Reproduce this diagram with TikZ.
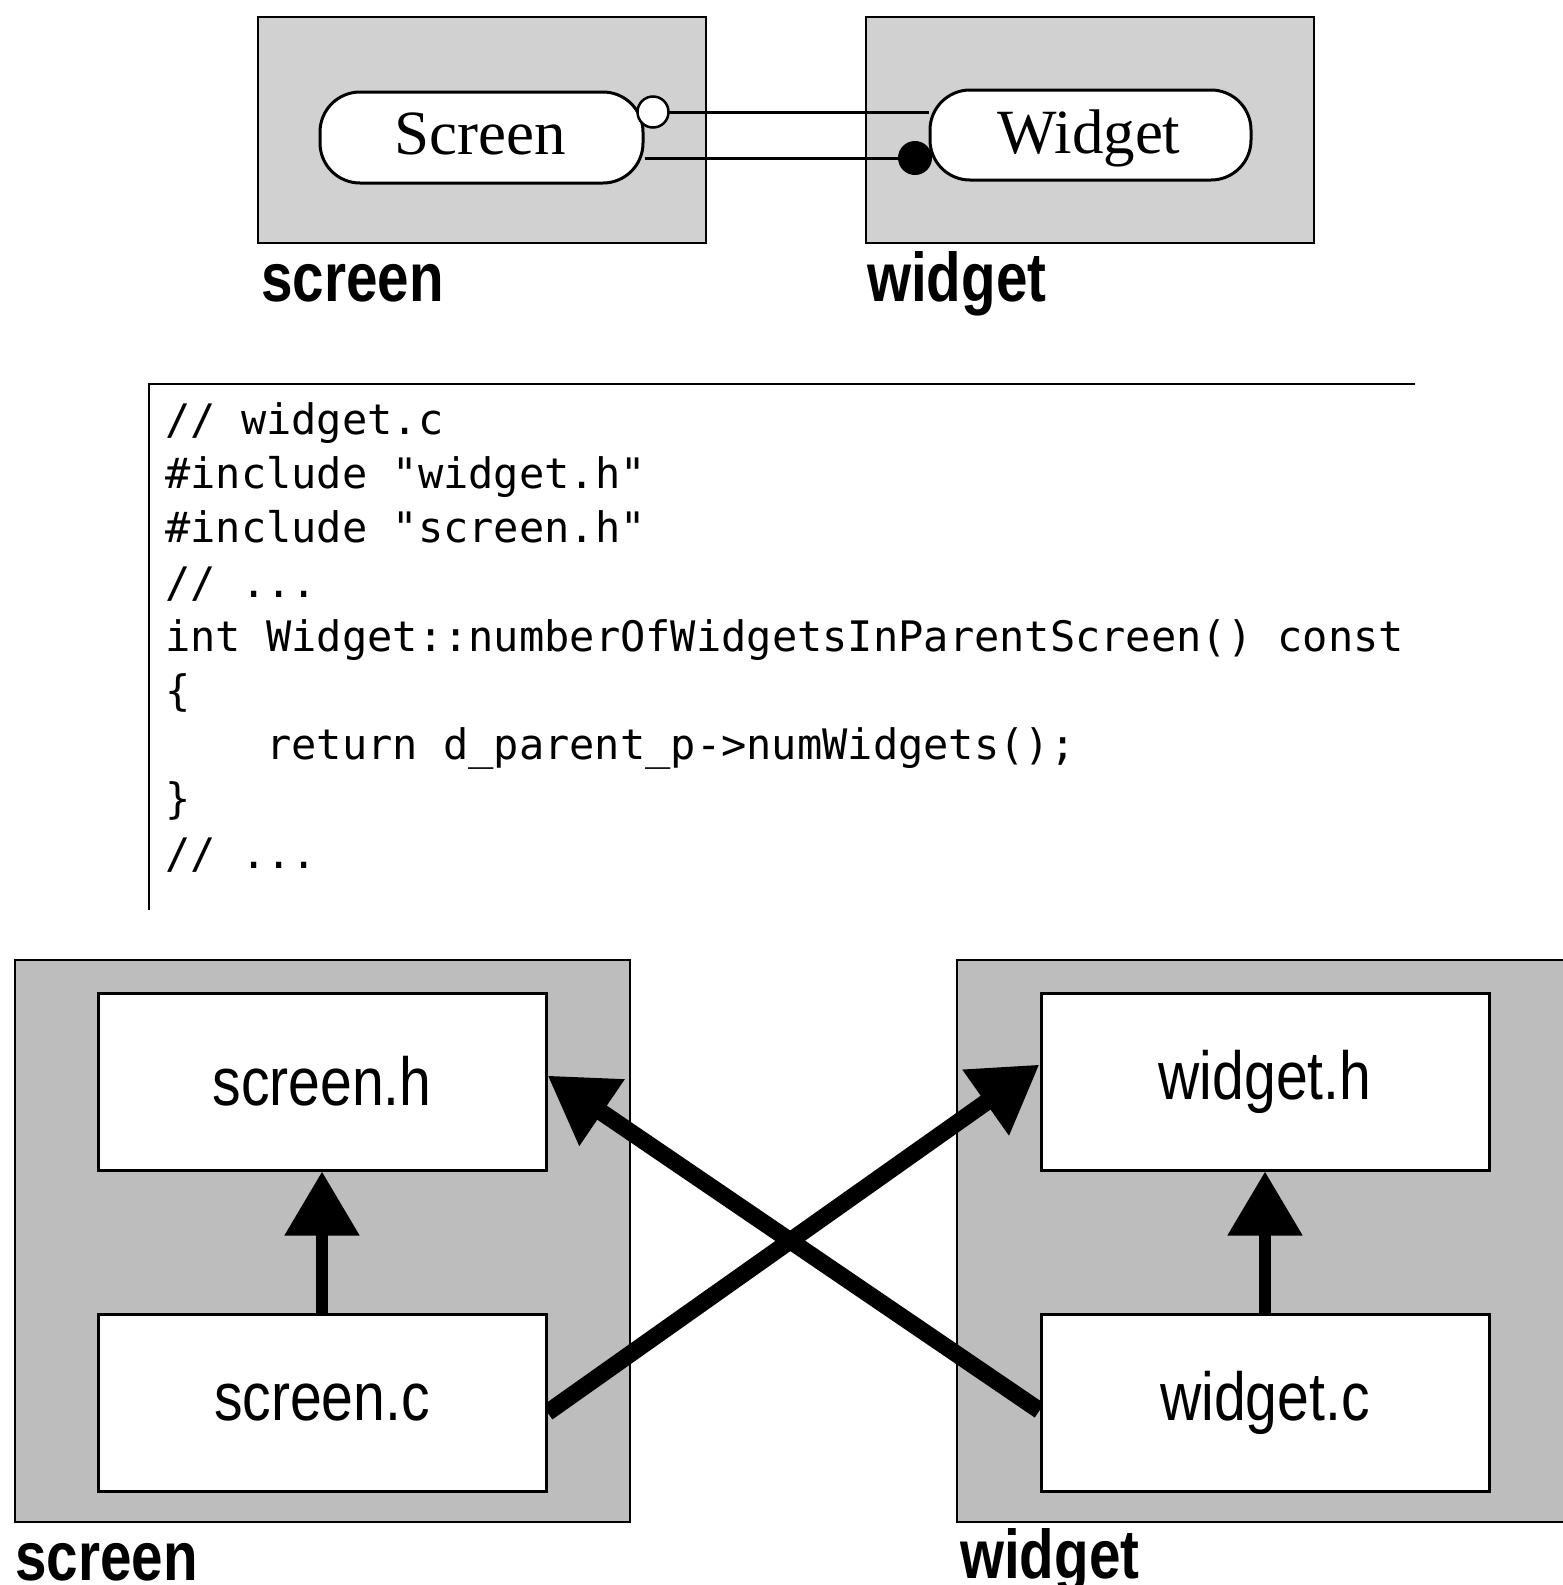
\documentclass[tikz,border=0pt]{standalone}
\usepackage{fontspec}
\newfontfamily\lblfont[FakeStretch=0.82]{Liberation Sans}
\newfontfamily\boxfont[FakeStretch=0.84]{Liberation Sans}
\newfontfamily\pillfont{Liberation Serif}
\newfontfamily\codefont{DejaVu Sans Mono}
\usetikzlibrary{arrows.meta,calc}
\pgfdeclarelayer{back}
\pgfdeclarelayer{mid}
\pgfsetlayers{back,mid,main}
\tikzset{
  pkgbox/.style={draw=black, line width=2pt, inner sep=0pt, outer sep=0pt},
  pill/.style={draw=black, line width=3pt, fill=white, rounded corners=40pt, inner sep=0pt},
  pilltext/.style={anchor=base, inner sep=0pt, font=\pillfont\fontsize{63}{70}\selectfont},
  filebox/.style={draw=black, line width=3pt, fill=white, minimum width=448pt, minimum height=177pt,
    inner sep=0pt, font=\boxfont\fontsize{68}{76}\selectfont},
  pkglabel/.style={anchor=base west, inner sep=0pt, font=\lblfont\bfseries\fontsize{69}{76}\selectfont},
  codeline/.style={anchor=base west, inner sep=0pt, font=\codefont\fontsize{42}{50}\selectfont},
  dep/.style={line width=12pt, -{Triangle[length=64pt,width=72pt]}},
  xdep/.style={line width=17pt, -{Triangle[length=66pt,width=76pt]}},
  link/.style={line width=3pt},
  rule/.style={line width=2pt}
}
\begin{document}
\begin{tikzpicture}[x=1pt,y=-1pt]
\useasboundingbox (0,0) rectangle (1563,1585);
\begin{pgfonlayer}{back}
\fill[white] (0,0) rectangle (1563,1585);
\end{pgfonlayer}

% ---------- top: package diagram ----------
\begin{pgfonlayer}{back}
\fill[black!18] (258,17) rectangle (706,243);
\fill[black!18] (866,17) rectangle (1314,243);
\end{pgfonlayer}
\node[pkgbox, minimum width=448pt, minimum height=226pt] (spkg) at (482,130) {};
\node[pkgbox, minimum width=448pt, minimum height=226pt] (wpkg) at (1090,130) {};
\node[pill, minimum width=323pt, minimum height=91pt] (spill) at (481.5,137.5) {};
\node[pill, minimum width=321pt, minimum height=90pt] (wpill) at (1090.5,135) {};
\node[pilltext] (stext) at (480,154) {Screen};
\node[pilltext] (wtext) at (1089,153) {Widget};
\node[circle, draw=black, line width=2.5pt, fill=white, minimum size=31pt, inner sep=0pt] (ocirc) at (653,112) {};
\node[circle, fill=black, minimum size=34pt, inner sep=0pt] (fdot) at (915,158) {};
\begin{pgfonlayer}{mid}
\draw[link] (ocirc.center) -- (ocirc -| wpill.west);
\draw[link] (spill.east |- fdot) -- (fdot.center);
\end{pgfonlayer}
\node[pkglabel] (slbl) at (261,301) {screen};
\node[pkglabel] (wlbl) at (867,301) {widget};

% ---------- middle: code ----------
\coordinate (cTL) at (149,384);
\coordinate (cTR) at (1415,384);
\coordinate (cBL) at (149,910);
\draw[rule] (cTR) -- (cTL) -- (cBL);
\node[codeline] (l1) at (165,434) {// widget.c};
\node[codeline] (l2) at (165,488) {\#include "widget.h"};
\node[codeline] (l3) at (165,542) {\#include "screen.h"};
\node[codeline] (l4) at (165,597) {// ...};
\node[codeline] (l5) at (165,651) {int Widget::numberOfWidgetsInParentScreen() const};
\node[codeline] (l6) at (165,705) {\{};
\node[codeline] (l7) at (266,759) {return d\_parent\_p->numWidgets();};
\node[codeline] (l8) at (165,813) {\}};
\node[codeline] (l9) at (165,868) {// ...};

% ---------- bottom: file diagram ----------
\begin{pgfonlayer}{back}
\fill[black!26] (15,960) rectangle (630,1522);
\fill[black!26] (957,960) rectangle (1580,1522);
\end{pgfonlayer}
\node[pkgbox, minimum width=615pt, minimum height=562pt] (spkg2) at (322.5,1241) {};
\node[pkgbox, minimum width=630pt, minimum height=562pt] (wpkg2) at (1272,1241) {};
\node[filebox] (sh) at (322,1081.5) {screen.h};
\node[filebox] (sc) at (322,1402.5) {screen.c};
\node[filebox] (wh) at (1265,1081.5) {widget.h};
\node[filebox] (wc) at (1265,1402.5) {widget.c};
\begin{pgfonlayer}{mid}
\draw[dep] (sc.north) -- (sh.south);
\draw[dep] (wc.north) -- (wh.south);
\draw[xdep] ($(sc.east)+(0,10)$) -- ($(wh.west)+(0,-17)$);
\draw[xdep] ($(wc.west)+(0,8)$) -- ($(sh.east)+(0,-6)$);
\end{pgfonlayer}
\node[pkglabel] (slbl2) at (15,1580) {screen};
\node[pkglabel] (wlbl2) at (960,1578) {widget};
\end{tikzpicture}
\end{document}
